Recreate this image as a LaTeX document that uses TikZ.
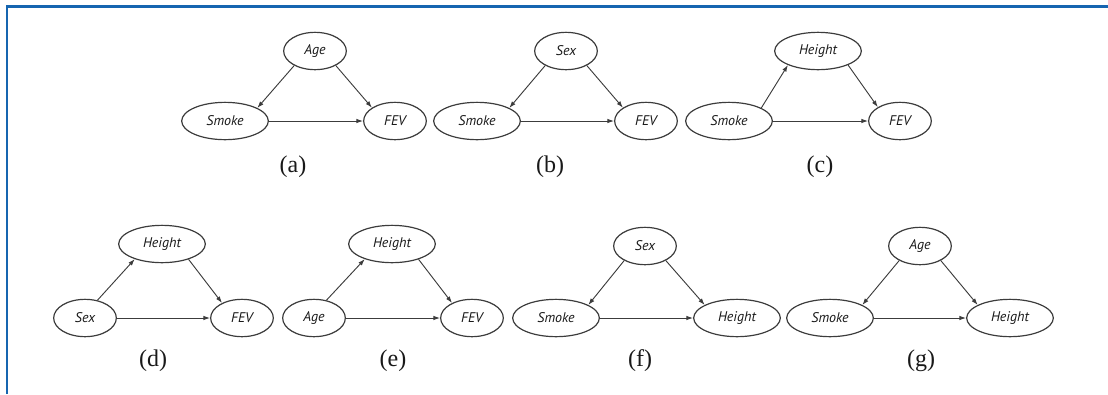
\documentclass[tikz,border=0pt]{standalone}
\usepackage{fontspec}
\setmainfont{Liberation Serif}
\newfontfamily\varfont{PT Sans}
\usetikzlibrary{shapes.geometric, arrows.meta}

\definecolor{frameblue}{RGB}{22,101,176}
\definecolor{inkgray}{RGB}{60,60,60}

\tikzset{
	var/.style={ellipse, draw=inkgray, line width=0.9pt, inner sep=0pt,
		minimum width=47pt, minimum height=28pt,
		font=\varfont\itshape\fontsize{10.5}{12}\selectfont, text=black!90},
	wide/.style={var, minimum width=65pt},
	sublabel/.style={font=\fontsize{18}{20}\selectfont, text=black!90},
	causal/.style={draw=inkgray, line width=0.7pt, -{Latex[length=5pt, width=3.4pt]}}
}

\begin{document}
\begin{tikzpicture}[x=0.75pt, y=-0.75pt]
		\useasboundingbox (0, 0) rectangle (1108, 394);
		% 蓝色边框 (上边和左边)
		\draw[frameblue, line width=1.6pt] (7, 394) -- (7, 6.5) -- (1108, 6.5);

		% (a) Age 同时影响 Smoke 和 FEV
		\node[var] (aTop) at (315, 51) {Age};
		\node[wide] (aLeft) at (225, 121) {Smoke};
		\node[var] (aRight) at (395, 121) {FEV};
		\node[sublabel] (aLab) at (293, 167) {(a)};
		\draw[causal] (aTop.215) -- (aLeft.22);
		\draw[causal] (aTop.325) -- (aRight.150);
		\draw[causal] (aLeft.east) -- (aRight.west);

		% (b) Sex 同时影响 Smoke 和 FEV
		\node[var] (bTop) at (566, 51) {Sex};
		\node[wide] (bLeft) at (477, 121) {Smoke};
		\node[var] (bRight) at (646, 121) {FEV};
		\node[sublabel] (bLab) at (550, 167) {(b)};
		\draw[causal] (bTop.215) -- (bLeft.22);
		\draw[causal] (bTop.325) -- (bRight.150);
		\draw[causal] (bLeft.east) -- (bRight.west);

		% (c) Smoke 通过 Height 影响 FEV
		\node[wide] (cTop) at (818, 51) {Height};
		\node[wide] (cLeft) at (729, 121) {Smoke};
		\node[var] (cRight) at (900, 121) {FEV};
		\node[sublabel] (cLab) at (820, 167) {(c)};
		\draw[causal] (cLeft.22) -- (cTop.205);
		\draw[causal] (cTop.335) -- (cRight.148);
		\draw[causal] (cLeft.east) -- (cRight.west);

		% (d) Sex 通过 Height 影响 FEV
		\node[wide] (dTop) at (162, 244) {Height};
		\node[var] (dLeft) at (85, 318) {Sex};
		\node[var] (dRight) at (242, 318) {FEV};
		\node[sublabel] (dLab) at (153, 361) {(d)};
		\draw[causal] (dLeft.55) -- (dTop.209);
		\draw[causal] (dTop.330) -- (dRight.143);
		\draw[causal] (dLeft.east) -- (dRight.west);

		% (e) Age 通过 Height 影响 FEV
		\node[wide] (eTop) at (392, 244) {Height};
		\node[var] (eLeft) at (314, 318) {Age};
		\node[var] (eRight) at (472, 318) {FEV};
		\node[sublabel] (eLab) at (393, 361) {(e)};
		\draw[causal] (eLeft.55) -- (eTop.209);
		\draw[causal] (eTop.330) -- (eRight.143);
		\draw[causal] (eLeft.east) -- (eRight.west);

		% (f) Sex 同时影响 Smoke 和 Height
		\node[var] (fTop) at (645, 246) {Sex};
		\node[wide] (fLeft) at (556, 318) {Smoke};
		\node[wide] (fRight) at (737, 318) {Height};
		\node[sublabel] (fLab) at (640, 361) {(f)};
		\draw[causal] (fTop.215) -- (fLeft.22);
		\draw[causal] (fTop.325) -- (fRight.158);
		\draw[causal] (fLeft.east) -- (fRight.west);

		% (g) Age 同时影响 Smoke 和 Height
		\node[var] (gTop) at (920, 246) {Age};
		\node[wide] (gLeft) at (830, 318) {Smoke};
		\node[wide] (gRight) at (1010, 318) {Height};
		\node[sublabel] (gLab) at (921, 361) {(g)};
		\draw[causal] (gTop.215) -- (gLeft.22);
		\draw[causal] (gTop.325) -- (gRight.158);
		\draw[causal] (gLeft.east) -- (gRight.west);
	\end{tikzpicture}
\end{document}
